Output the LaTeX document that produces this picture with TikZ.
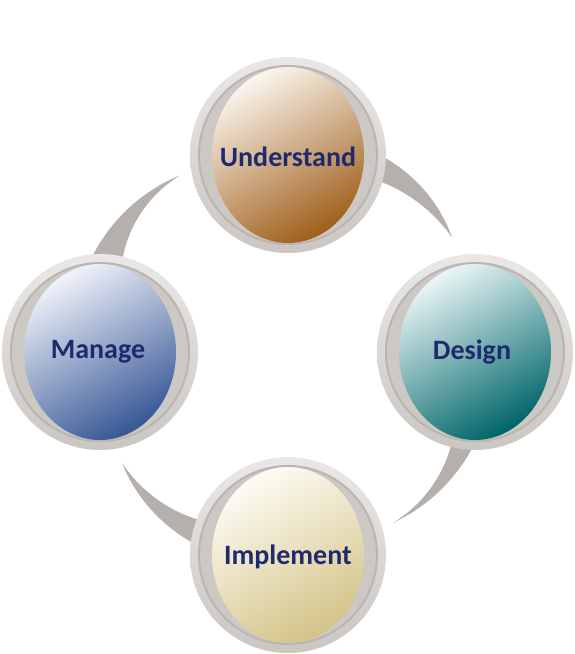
\documentclass[tikz,border=0pt]{standalone}
\usepackage{fontspec}
\setmainfont{Carlito}
\usetikzlibrary{shapes.geometric}

\definecolor{ringtop}{RGB}{234,232,230}
\definecolor{ringbot}{RGB}{202,198,194}
\definecolor{ringhole}{RGB}{204,200,196}
\definecolor{ringedge}{RGB}{186,181,177}
\definecolor{sweepgray}{RGB}{182,176,172}
\definecolor{labelblue}{RGB}{31,42,110}
\definecolor{undA}{RGB}{250,244,236}
\definecolor{undB}{RGB}{214,172,118}
\definecolor{undC}{RGB}{160,96,28}
\definecolor{desA}{RGB}{232,244,245}
\definecolor{desB}{RGB}{88,166,170}
\definecolor{desC}{RGB}{0,102,105}
\definecolor{manA}{RGB}{238,241,249}
\definecolor{manB}{RGB}{140,161,203}
\definecolor{manC}{RGB}{56,88,150}
\definecolor{impA}{RGB}{253,251,243}
\definecolor{impB}{RGB}{240,232,198}
\definecolor{impC}{RGB}{212,196,136}

\begin{document}
\begin{tikzpicture}[x=1pt,y=1pt]
   \tikzset{RingStyle/.style={circle, minimum size=196pt, inner sep=0pt, top color=ringtop, bottom color=ringbot}}
   \tikzset{HoleStyle/.style={circle, minimum size=178pt, inner sep=0pt, fill=ringhole, draw=ringedge, line width=2pt}}
   \tikzset{BulbStyle/.style={ellipse, minimum width=152pt, minimum height=176pt, inner sep=0pt}}
   \tikzset{LabelStyle/.style={font=\fontsize{28}{30}\selectfont\bfseries, text=labelblue, inner sep=0pt}}
   \tikzset{SweepStyle/.style={fill=sweepgray}}
   \useasboundingbox (0,0) rectangle (575,654);
   \coordinate (cyc) at (288,302);
   % curved arrows between the stages
   \foreach \bas/\tip/\ro/\ri/\rt in {72/34.8/218/188/200, -22/-58.4/208/180/200.6, 252/213.8/214/182/199.7, 158/121.4/218/180/207}
      \fill[SweepStyle, shift={(cyc)}]
         plot[domain=0:1, samples=30, variable=\s] ({\bas+\s*((\tip)-(\bas))}:{\rt+(\ro-\rt)*(1-\s*\s)})
         -- plot[domain=1:0, samples=30, variable=\s] ({\bas+\s*((\tip)-(\bas))}:{\rt-(\rt-\ri)*(1-\s)*(1-\s)})
         -- cycle;
   \node[RingStyle] (und) at (288,499) {};
   \node[HoleStyle] at (und) {};
   \node[BulbStyle, top color=undA, middle color=undB, bottom color=undC, shading angle=30] (undbulb) at (und) {};
   \node[LabelStyle] (undtxt) at ([yshift=-2pt]und) {Understand};
   \node[RingStyle] (des) at (475,302) {};
   \node[HoleStyle] at (des) {};
   \node[BulbStyle, top color=desA, middle color=desB, bottom color=desC, shading angle=30] (desbulb) at (des) {};
   \node[LabelStyle] (destxt) at ([xshift=-3pt]des) {Design};
   \node[RingStyle] (imp) at (288,99) {};
   \node[HoleStyle] at (imp) {};
   \node[BulbStyle, top color=impA, middle color=impB, bottom color=impC, shading angle=30] (impbulb) at (imp) {};
   \node[LabelStyle] (imptxt) at ([yshift=-2pt]imp) {Implement};
   \node[RingStyle] (man) at (100,302) {};
   \node[HoleStyle] at (man) {};
   \node[BulbStyle, top color=manA, middle color=manB, bottom color=manC, shading angle=30] (manbulb) at (man) {};
   \node[LabelStyle] (mantxt) at ([xshift=-2pt]man) {Manage};
\end{tikzpicture}
\end{document}
